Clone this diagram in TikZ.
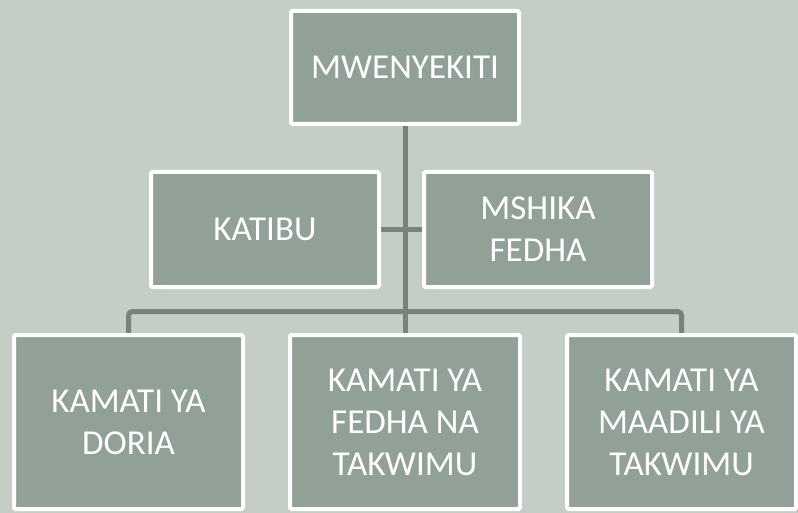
\documentclass[tikz,border=0pt]{standalone}
\usepackage{fontspec}
\setmainfont{Carlito}
\usepackage{xcolor}
\usepackage{tikz}
\usetikzlibrary{backgrounds}

\definecolor{bgcol}{HTML}{C5CDC7}
\definecolor{boxcol}{HTML}{92A197}
\definecolor{linkcol}{HTML}{788279}

\begin{document}
\begin{tikzpicture}[x=1pt, y=-1pt,
        office/.style={rectangle, draw=white, line width=4pt, fill=boxcol,
            rounded corners=1.5pt, text=white, align=center,
            font=\fontsize{35}{42}\selectfont,
            minimum width=228pt, inner sep=0pt},
        link/.style={draw=linkcol, line width=5pt}]
            \useasboundingbox (0,0) rectangle (798,513);

            % Nodes
            \node[office, minimum height=113pt] (mw) at (405,67.5) {MWENYEKITI};
            \node[office, minimum height=115pt] (kat) at (265,229.5) {KATIBU};
            \node[office, minimum height=115pt] (msh) at (538,229.5) {MSHIKA\\FEDHA};
            \node[office, minimum height=174pt, minimum width=229pt] (dor) at (128.5,422) {KAMATI YA\\DORIA};
            \node[office, minimum height=174pt, minimum width=230pt] (fed) at (405,422) {KAMATI YA\\FEDHA NA\\TAKWIMU};
            \node[office, minimum height=174pt, minimum width=229pt] (mad) at (681.5,422) {KAMATI YA\\MAADILI YA\\TAKWIMU};
            \coordinate (bus) at (405,311.5);

            % Edges
            \begin{scope}[on background layer]
            \fill[bgcol] (0,0) rectangle (798,513);
            \draw[link] (mw.south) -- (fed.north);
            \draw[link] (kat.east) -- (msh.west);
            \draw[link, rounded corners=4pt] (dor.north) |- (bus) -| (mad.north);
            \end{scope}
        \end{tikzpicture}
\end{document}
